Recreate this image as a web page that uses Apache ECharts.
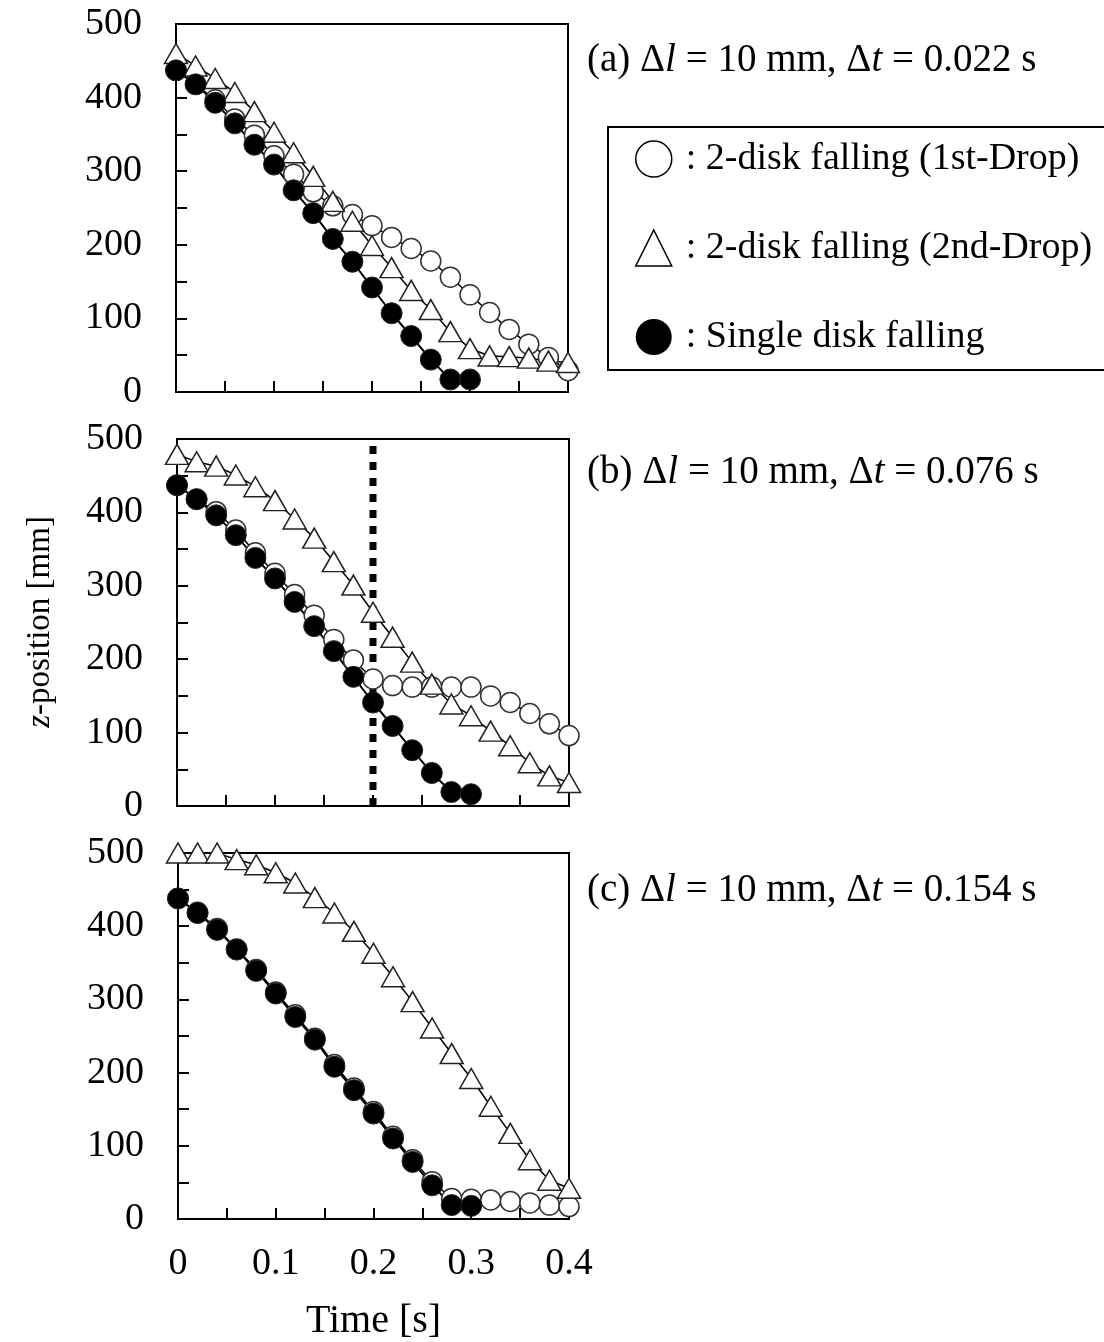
<!DOCTYPE html>
<html>
<head>
<meta charset="utf-8">
<script src="https://cdn.jsdelivr.net/npm/echarts@6/dist/echarts.min.js"></script>
<style>
  html, body { margin: 0; padding: 0; background: #fff; }
  #chart { width: 1104px; height: 1342px; }
</style>
</head>
<body>
<div id="chart"></div>
<script>
// time axis, every 0.02 s
const time = [0, 0.02, 0.04, 0.06, 0.08, 0.10, 0.12, 0.14, 0.16, 0.18, 0.20,
  0.22, 0.24, 0.26, 0.28, 0.30, 0.32, 0.34, 0.36, 0.38, 0.40]

const seriesNames = ['2-disk falling (1st-Drop)', '2-disk falling (2nd-Drop)', 'Single disk falling']
const panelTitles = [
  '(a) Δ{i|l} = 10 mm, Δ{i|t} = 0.022 s',
  '(b) Δ{i|l} = 10 mm, Δ{i|t} = 0.076 s',
  '(c) Δ{i|l} = 10 mm, Δ{i|t} = 0.154 s'
]

// (a)
const a1st = [437, 418, 397, 371, 349, 321, 296, 272, 253, 241, 226, 210, 195, 178, 156, 132, 108, 85, 65, 47, 29]
const a2nd = [460, 443, 426, 407, 381, 353, 325, 293, 259, 232, 199, 169, 138, 112, 82, 59, 49, 48, 46, 42, 40]
const aSingle = [437, 418, 393, 365, 336, 309, 274, 243, 208, 177, 142, 107, 76, 44, 17, 17]
// (b)
const b1st = [437, 418, 401, 376, 345, 317, 288, 260, 227, 199, 173, 164, 162, 162, 162, 162, 150, 141, 126, 112, 96]
const b2nd = [479, 469, 463, 451, 435, 416, 391, 365, 333, 301, 264, 230, 196, 166, 139, 123, 102, 82, 59, 41, 32]
const bSingle = [437, 418, 396, 369, 338, 310, 278, 245, 211, 176, 141, 109, 76, 45, 19, 16]
// (c)
const c1st = [438, 419, 397, 369, 341, 310, 279, 247, 211, 179, 147, 113, 81, 51, 28, 27, 26, 24, 22, 19, 17]
const c2nd = [500, 500, 500, 491, 484, 473, 459, 439, 418, 393, 363, 331, 297, 261, 226, 192, 154, 117, 81, 53, 42]
const cSingle = [438, 418, 395, 368, 339, 308, 276, 245, 208, 176, 144, 110, 78, 46, 19, 18]

// dashed marker line in (b)
const markTime = 0.2
const markRange = [0, 500]

const font = 'Liberation Serif'
const black = '#000'

function pairs(values) {
  return values.map((v, i) => [time[i], v])
}

const grids = [
  { left: 176, top: 24, width: 392, height: 368 },
  { left: 177, top: 439, width: 392, height: 367 },
  { left: 178, top: 853, width: 391, height: 366 }
]

const xAxis = grids.map((g, i) => ({
  type: 'value',
  gridIndex: i,
  min: 0,
  max: 0.4,
  interval: 0.05,
  axisLine: { lineStyle: { color: black, width: 2 } },
  axisTick: { inside: true, length: 11, lineStyle: { color: black, width: 2 } },
  axisLabel: {
    show: i === 2,
    margin: 26,
    color: black,
    fontFamily: font,
    fontSize: 38,
    formatter: v => {
      const k = Math.round(v * 100)
      return k % 10 === 0 ? String(k / 100) : ''
    }
  },
  splitLine: { show: false },
  name: i === 2 ? 'Time [s]' : '',
  nameLocation: 'middle',
  nameGap: 82,
  nameTextStyle: { color: black, fontFamily: font, fontSize: 40 }
}))

const yAxis = grids.map((g, i) => ({
  type: 'value',
  gridIndex: i,
  min: 0,
  max: 500,
  interval: 50,
  axisLine: { lineStyle: { color: black, width: 2 } },
  axisTick: { inside: true, length: 11, lineStyle: { color: black, width: 2 } },
  axisLabel: {
    margin: 34,
    color: black,
    fontFamily: font,
    fontSize: 38,
    formatter: v => (v % 100 === 0 ? String(v) : '')
  },
  splitLine: { show: false }
}))

const panels = [
  [a1st, a2nd, aSingle],
  [b1st, b2nd, bSingle],
  [c1st, c2nd, cSingle]
]

const series = []
panels.forEach((p, i) => {
  series.push({
    name: seriesNames[0],
    type: 'line',
    xAxisIndex: i,
    yAxisIndex: i,
    data: pairs(p[0]),
    symbol: 'circle',
    symbolSize: 20,
    clip: false,
    itemStyle: { color: '#fff', borderColor: '#333', borderWidth: 1.5 },
    lineStyle: { color: black, width: 1.5 }
  })
  series.push({
    name: seriesNames[1],
    type: 'line',
    xAxisIndex: i,
    yAxisIndex: i,
    data: pairs(p[1]),
    symbol: 'triangle',
    symbolSize: [23, 20],
    clip: false,
    itemStyle: { color: '#fff', borderColor: '#222', borderWidth: 1.5 },
    lineStyle: { color: black, width: 1.5 }
  })
  series.push({
    name: seriesNames[2],
    type: 'line',
    xAxisIndex: i,
    yAxisIndex: i,
    data: pairs(p[2]),
    symbol: 'circle',
    symbolSize: 21,
    clip: false,
    itemStyle: { color: black, borderColor: '#222', borderWidth: 1 },
    lineStyle: { color: black, width: 2 }
  })
})

series.push({
  name: 'marker',
  type: 'line',
  xAxisIndex: 1,
  yAxisIndex: 1,
  data: markRange.map(v => [markTime, v]),
  symbol: 'none',
  silent: true,
  lineStyle: { color: black, width: 7, type: [8, 8] }
})

const titleRich = { i: { fontStyle: 'italic', fontFamily: font, fontSize: 39, color: black } }
const titleTops = [41, 453, 871]

const option = {
  animation: false,
  backgroundColor: '#fff',
  title: panelTitles.map((t, i) => ({
    text: t,
    left: 587,
    top: titleTops[i],
    padding: 0,
    textStyle: { color: black, fontFamily: font, fontSize: 39, fontWeight: 'normal', rich: titleRich }
  })),
  legend: {
    orient: 'vertical',
    left: 608,
    top: 127,
    padding: [12, 60, 13, 27],
    itemGap: 49,
    itemWidth: 36,
    itemHeight: 36,
    borderColor: black,
    borderWidth: 2,
    formatter: ': {name}',
    textStyle: { color: black, fontFamily: font, fontSize: 38, lineHeight: 40, padding: [0, 0, 0, 9] },
    data: [
      { name: seriesNames[0], icon: 'circle', itemStyle: { color: '#fff', borderColor: black, borderWidth: 1.5 } },
      { name: seriesNames[1], icon: 'triangle', itemStyle: { color: '#fff', borderColor: black, borderWidth: 1.5 } },
      { name: seriesNames[2], icon: 'circle', itemStyle: { color: black, borderWidth: 0 } }
    ]
  },
  grid: grids.map(g => Object.assign({ show: true, borderColor: black, borderWidth: 2, backgroundColor: 'transparent' }, g)),
  xAxis,
  yAxis,
  series,
  graphic: [{
    type: 'text',
    x: 40,
    y: 622,
    rotation: Math.PI / 2,
    style: {
      text: '{i|z}-position [mm]',
      fill: black,
      font: '33px "Liberation Serif"',
      align: 'center',
      verticalAlign: 'middle',
      rich: { i: { fontStyle: 'italic', fontFamily: font, fontSize: 33, fill: black } }
    }
  }]
}

const myChart = echarts.init(document.getElementById('chart'))
myChart.setOption(option)
</script>
</body>
</html>
